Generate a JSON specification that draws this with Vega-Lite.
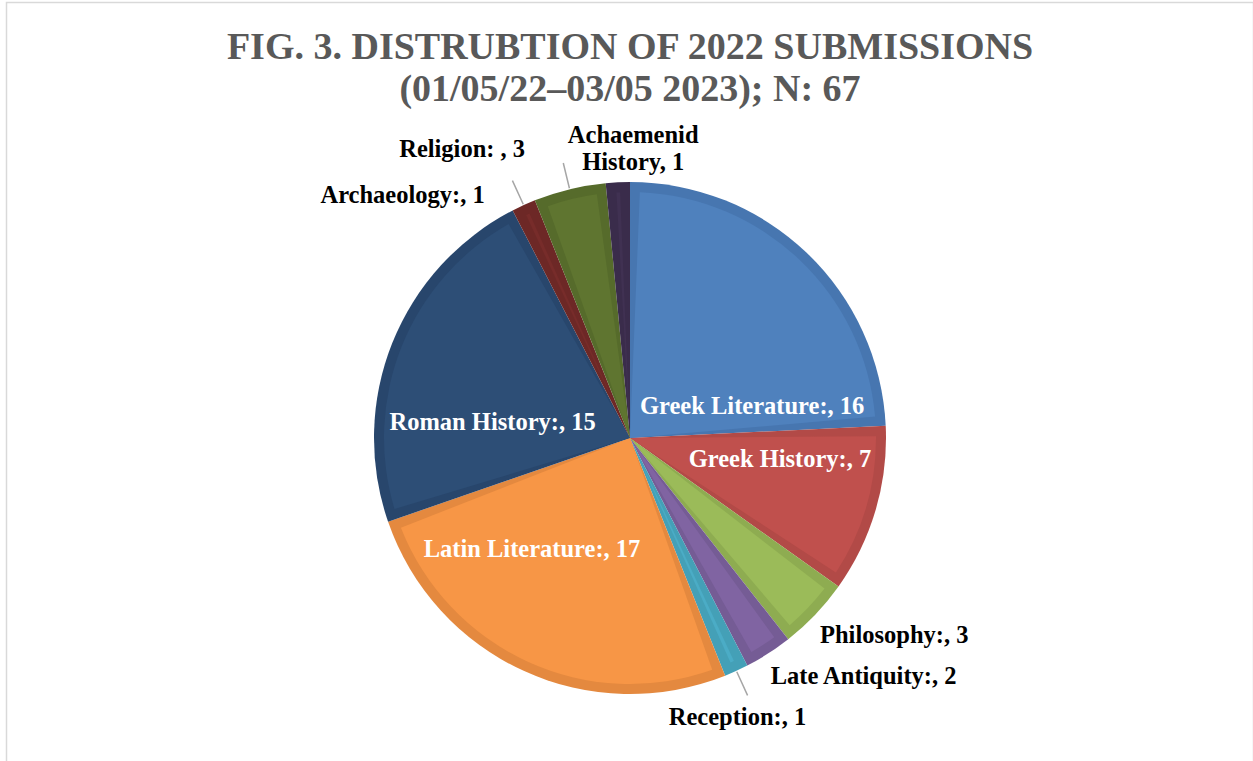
{
  "$schema": "https://vega.github.io/schema/vega-lite/v6.json",
  "width": 1247,
  "height": 871,
  "autosize": {"type": "none"},
  "padding": {"left": 6.5, "top": 2.5, "right": 0, "bottom": 0},
  "background": "white",
  "view": {"stroke": "#D9D9D9", "strokeWidth": 1.5, "fill": "white"},
  "title": {
    "text": ["FIG. 3. DISTRUBTION OF 2022 SUBMISSIONS", "(01/05/22\u201303/05 2023); N: 67"],
    "orient": "top",
    "anchor": "middle",
    "frame": "group",
    "offset": -106,
    "font": "Liberation Serif",
    "fontWeight": "bold",
    "fontSize": 38,
    "lineHeight": 42,
    "color": "#595959"
  },
  "config": {"view": {"stroke": "#D9D9D9", "strokeWidth": 1.5}},
  "data": {
    "values": [
      {"cat": "Greek Literature", "value": 16, "label": "Greek Literature:, 16"},
      {"cat": "Greek History", "value": 7, "label": "Greek History:, 7"},
      {"cat": "Philosophy", "value": 3, "label": "Philosophy:, 3"},
      {"cat": "Late Antiquity", "value": 2, "label": "Late Antiquity:, 2"},
      {"cat": "Reception", "value": 1, "label": "Reception:, 1"},
      {"cat": "Latin Literature", "value": 17, "label": "Latin Literature:, 17"},
      {"cat": "Roman History", "value": 15, "label": "Roman History:, 15"},
      {"cat": "Archaeology", "value": 1, "label": "Archaeology:, 1"},
      {"cat": "Religion", "value": 3, "label": "Religion: , 3"},
      {"cat": "Achaemenid History", "value": 1, "label": "Achaemenid\nHistory, 1"}
    ]
  },
  "transform": [{"window": [{"op": "row_number", "as": "ord"}]}],
  "encoding": {
    "theta": {"field": "value", "type": "quantitative", "stack": true},
    "order": {"field": "ord", "type": "quantitative", "sort": "ascending"}
  },
  "layer": [
    {
      "mark": {"type": "arc", "outerRadius": 256, "innerRadius": 0},
      "encoding": {
        "color": {
          "field": "cat", "type": "nominal", "legend": null,
          "scale": {
            "domain": ["Greek Literature", "Greek History", "Philosophy", "Late Antiquity", "Reception", "Latin Literature", "Roman History", "Archaeology", "Religion", "Achaemenid History"],
            "range": ["#4776B0", "#B24A47", "#8EAC51", "#755C95", "#44A0B7", "#E4893F", "#28466C", "#6D2826", "#566B2B", "#3A2C4B"]
          }
        }
      }
    },
    {
      "mark": {"type": "arc", "outerRadius": 246, "innerRadius": 0, "padAngle": 0.08},
      "encoding": {
        "color": {
          "field": "cat", "type": "nominal", "legend": null,
          "scale": {
            "domain": ["Greek Literature", "Greek History", "Philosophy", "Late Antiquity", "Reception", "Latin Literature", "Roman History", "Archaeology", "Religion", "Achaemenid History"],
            "range": ["#4F81BD", "#C0504D", "#9BBB59", "#8064A2", "#4BACC6", "#F79646", "#2D4E76", "#772C2A", "#5F7530", "#403152"]
          }
        }
      }
    },
    {
      "mark": {"type": "arc", "outerRadius": 283, "innerRadius": 257, "padAngle": 0.4, "filled": false, "stroke": "#A6A6A6", "strokeWidth": 1.5},
      "encoding": {
        "strokeOpacity": {"condition": {"test": "indexof(['Reception','Archaeology','Religion'], datum.cat) >= 0", "value": 1}, "value": 0}
      }
    },
    {
      "mark": {"type": "text", "radius": 106, "dx": 49, "dy": 46, "align": "center", "baseline": "middle", "font": "Liberation Serif", "fontWeight": "bold", "fontSize": 24.5, "color": "white"},
      "encoding": {"text": {"condition": {"test": "datum.cat === 'Greek Literature'", "field": "label"}, "value": ""}}
    },
    {
      "mark": {"type": "text", "radius": 150, "dx": 6, "dy": -20, "align": "center", "baseline": "middle", "font": "Liberation Serif", "fontWeight": "bold", "fontSize": 24.5, "color": "white"},
      "encoding": {"text": {"condition": {"test": "datum.cat === 'Greek History'", "field": "label"}, "value": ""}}
    },
    {
      "mark": {"type": "text", "radius": 275, "dx": -9, "dy": 8, "align": "left", "baseline": "middle", "font": "Liberation Serif", "fontWeight": "bold", "fontSize": 24.5, "color": "black"},
      "encoding": {"text": {"condition": {"test": "datum.cat === 'Philosophy'", "field": "label"}, "value": ""}}
    },
    {
      "mark": {"type": "text", "radius": 275, "dx": -8, "dy": 8, "align": "left", "baseline": "middle", "font": "Liberation Serif", "fontWeight": "bold", "fontSize": 24.5, "color": "black"},
      "encoding": {"text": {"condition": {"test": "datum.cat === 'Late Antiquity'", "field": "label"}, "value": ""}}
    },
    {
      "mark": {"type": "text", "radius": 290, "dx": -13, "dy": 16, "align": "center", "baseline": "middle", "font": "Liberation Serif", "fontWeight": "bold", "fontSize": 24.5, "color": "black"},
      "encoding": {"text": {"condition": {"test": "datum.cat === 'Reception'", "field": "label"}, "value": ""}}
    },
    {
      "mark": {"type": "text", "radius": 142, "dx": -39, "dy": -17, "align": "center", "baseline": "middle", "font": "Liberation Serif", "fontWeight": "bold", "fontSize": 24.5, "color": "white"},
      "encoding": {"text": {"condition": {"test": "datum.cat === 'Latin Literature'", "field": "label"}, "value": ""}}
    },
    {
      "mark": {"type": "text", "radius": 134, "dx": -13, "dy": 35, "align": "center", "baseline": "middle", "font": "Liberation Serif", "fontWeight": "bold", "fontSize": 24.5, "color": "white"},
      "encoding": {"text": {"condition": {"test": "datum.cat === 'Roman History'", "field": "label"}, "value": ""}}
    },
    {
      "mark": {"type": "text", "radius": 280, "dx": -29, "dy": 13, "align": "right", "baseline": "middle", "font": "Liberation Serif", "fontWeight": "bold", "fontSize": 24.5, "color": "black"},
      "encoding": {"text": {"condition": {"test": "datum.cat === 'Archaeology'", "field": "label"}, "value": ""}}
    },
    {
      "mark": {"type": "text", "radius": 305, "dx": -33, "dy": 8, "align": "right", "baseline": "middle", "font": "Liberation Serif", "fontWeight": "bold", "fontSize": 24.5, "color": "black"},
      "encoding": {"text": {"condition": {"test": "datum.cat === 'Religion'", "field": "label"}, "value": ""}}
    },
    {
      "mark": {"type": "text", "radius": 290, "dx": 17, "dy": -12, "align": "center", "baseline": "middle", "lineBreak": "\n", "lineHeight": 27, "font": "Liberation Serif", "fontWeight": "bold", "fontSize": 24.5, "color": "black"},
      "encoding": {"text": {"condition": {"test": "datum.cat === 'Achaemenid History'", "field": "label"}, "value": ""}}
    }
  ],
  "resolve": {"scale": {"color": "independent"}}
}
